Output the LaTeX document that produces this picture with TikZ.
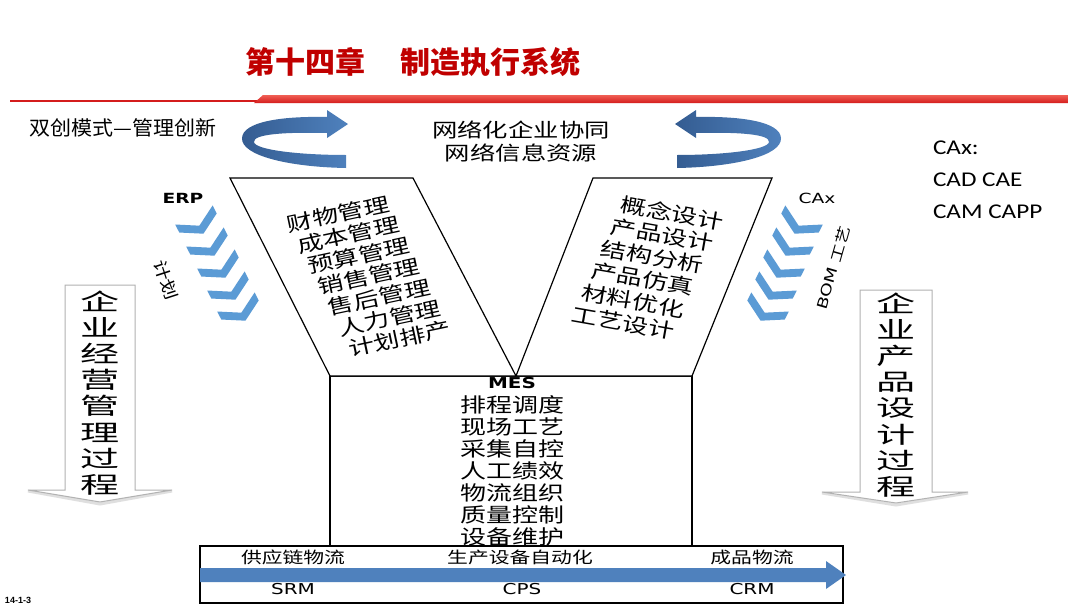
\documentclass[tikz,border=0pt]{standalone}
\usepackage{fontspec}
\setmainfont{DejaVu Sans}
\newfontfamily\cjk[FakeStretch=1.3]{Noto Sans CJK SC}
\newfontfamily\cjkN[FakeStretch=1.05]{Noto Sans CJK SC}
\newfontfamily\cjkV[FakeStretch=1.7]{Noto Sans CJK SC}
\newfontfamily\cjkT{Noto Sans CJK SC}
\newfontfamily\latS[FakeStretch=1.33]{DejaVu Sans}
\newfontfamily\calF[FakeStretch=1.2]{Carlito}
\newfontfamily\footF{Liberation Sans}
\newcommand\fsz[2]{\fontsize{#1}{#2}\selectfont}
\definecolor{titlered}{RGB}{192,0,0}
\definecolor{chevblue}{RGB}{91,155,213}
\definecolor{arrblue}{RGB}{79,129,189}
\definecolor{arrdark}{RGB}{52,92,145}
\definecolor{barred}{RGB}{212,28,28}
\definecolor{barlight}{RGB}{240,95,85}
\begin{document}
\begin{tikzpicture}[x=1pt,y=-1pt,
  every node/.style={inner sep=0pt,outer sep=0pt},
  boxline/.style={draw=black,line width=1.3pt,fill=white},
  garrow/.style={draw=gray!60,line width=1pt,fill=white},
  mtext/.style={font=\cjk\fsz{20}{22}},
  btext/.style={font=\cjk\fsz{16}{18}},
  ltext/.style={font=\latS\fsz{15}{18}},
  vtext/.style={font=\cjkV\fsz{23}{26.2},align=center},
  chev/.pic={\fill[chevblue] (-21,-9) -- (0,3) -- (21,-9) -- (21,0) -- (0,12) -- (-21,0) -- cycle;}
]
\useasboundingbox (0,0) rectangle (1080,608);
\fill[white] (0,0) rectangle (1080,608);

% title and red rule
\node[font=\cjkT\bfseries\fsz{30}{32},text=titlered,anchor=west] (t1) at (245,62) {第十四章};
\node[font=\cjkT\bfseries\fsz{30}{32},text=titlered,anchor=west] (t2) at (400,62) {制造执行系统};
\draw[barred,line width=2pt] (10,101) -- (258,101);
\shade[top color=barlight,bottom color=barred] (254,103) -- (263,95) -- (1068,95) -- (1068,103) -- cycle;

% header texts
\node[font=\cjkN\fsz{20}{22},anchor=west] (inno) at (30,128) {双创模式—管理创新};
\node[font=\cjk\fsz{19.5}{22}] (net1) at (521,130) {网络化企业协同};
\node[font=\cjk\fsz{19.5}{22}] (net2) at (521,153) {网络信息资源};
\node[font=\calF\fsz{21}{24},anchor=west] (cax1) at (933,148) {CAx:};
\node[font=\calF\fsz{21}{24},anchor=west] (cax2) at (933,180) {CAD CAE};
\node[font=\calF\fsz{21}{24},anchor=west] (cax3) at (933,212) {CAM CAPP};

% curved arrows
\shade[left color=arrdark,right color=arrblue]
  (327,117) .. controls (280,116) and (243,122) .. (242,138)
  .. controls (241,156) and (290,167) .. (346,168) -- (346,155)
  .. controls (300,155) and (255,150) .. (254,142)
  .. controls (253,134) and (285,132) .. (327,133)
  -- (327,138) -- (348,124) -- (327,110) -- cycle;
\begin{scope}[shift={(1023,0)},xscale=-1]
\shade[left color=arrdark,right color=arrblue]
  (327,117) .. controls (280,116) and (243,122) .. (242,138)
  .. controls (241,156) and (290,167) .. (346,168) -- (346,155)
  .. controls (300,155) and (255,150) .. (254,142)
  .. controls (253,134) and (285,132) .. (327,133)
  -- (327,138) -- (348,124) -- (327,110) -- cycle;
\end{scope}

% vertical process arrows
\draw[gray!25,line width=3pt] (28,491) -- (100,504) -- (172,491);
\draw[garrow] (65,285) -- (135,285) -- (135,490) -- (172,490) -- (100,502) -- (28,490) -- (65,490) -- cycle;
\node[vtext] (lproc) at (100,393) {企\\业\\经\\营\\管\\理\\过\\程};
\draw[gray!25,line width=3pt] (822,493) -- (896,505) -- (968,493);
\draw[garrow] (860,290) -- (932,290) -- (932,492) -- (968,492) -- (896,503) -- (822,492) -- (860,492) -- cycle;
\node[vtext] (rproc) at (896,395) {企\\业\\产\\品\\设\\计\\过\\程};

% chevrons
\foreach \x/\y in {198/223,209/245,220/267,230/289,240/310} \pic[rotate=27] at (\x,\y) {chev};
\foreach \x/\y in {800/223,791/245,782/267,774/289,766/310} \pic[rotate=-27] at (\x,\y) {chev};
\node[font=\latS\bfseries\fsz{14}{16}] (erp) at (183,198) {ERP};
\node[font=\latS\fsz{14}{16}] (caxs) at (817,198) {CAx};
\node[font=\cjk\fsz{16}{16},rotate=-72] (plan) at (166,280) {计划};
\node[font=\latS\fsz{14}{16},rotate=74] (bom) at (833,268) {BOM {\cjk 工艺}};

% MES box and bottom box
\draw[boxline] (330,376) rectangle (692,547);
\draw[boxline] (200,546) rectangle (843,603);
\fill[arrblue] (200,568) -- (826,568) -- (826,561) -- (846,575) -- (826,589) -- (826,582) -- (200,582) -- cycle;

% parallelograms
\draw[boxline,line width=1.2pt,line join=miter] (230,178) -- (413,178) -- (516,376) -- (330,376) -- cycle;
\draw[boxline,line width=1.2pt,line join=miter] (593,178) -- (772,178) -- (692,376) -- (516,376) -- cycle;

\foreach \t [count=\i from 0] in {财物管理,成本管理,预算管理,销售管理,售后管理,人力管理,计划排产}
  \node[mtext,rotate=12] (erp\i) at ({338+10.3*\i},{214+20.8*\i}) {\t};
\foreach \t [count=\i from 0] in {概念设计,产品设计,结构分析,产品仿真,材料优化,工艺设计}
  \node[mtext,rotate=-10] (cad\i) at ({672-9.8*\i},{213+22*\i}) {\t};

% MES texts
\node[font=\latS\bfseries\fsz{15}{18}] (mes) at (512,383) {MES};
\foreach \t [count=\i] in {排程调度,现场工艺,采集自控,人工绩效,物流组织,质量控制,设备维护}
  \node[mtext] (mes\i) at (512,{383+22*\i}) {\t};

% bottom texts
\node[btext] (sup) at (293,557) {供应链物流};
\node[btext] (prod) at (520,557) {生产设备自动化};
\node[btext] (fin) at (752,557) {成品物流};
\node[ltext] (srm) at (293,589) {SRM};
\node[ltext] (cps) at (522,589) {CPS};
\node[ltext] (crm) at (752,589) {CRM};

\node[font=\footF\bfseries\fsz{9}{10},anchor=west] (foot) at (5,600) {14-1-3};
\end{tikzpicture}
\end{document}
